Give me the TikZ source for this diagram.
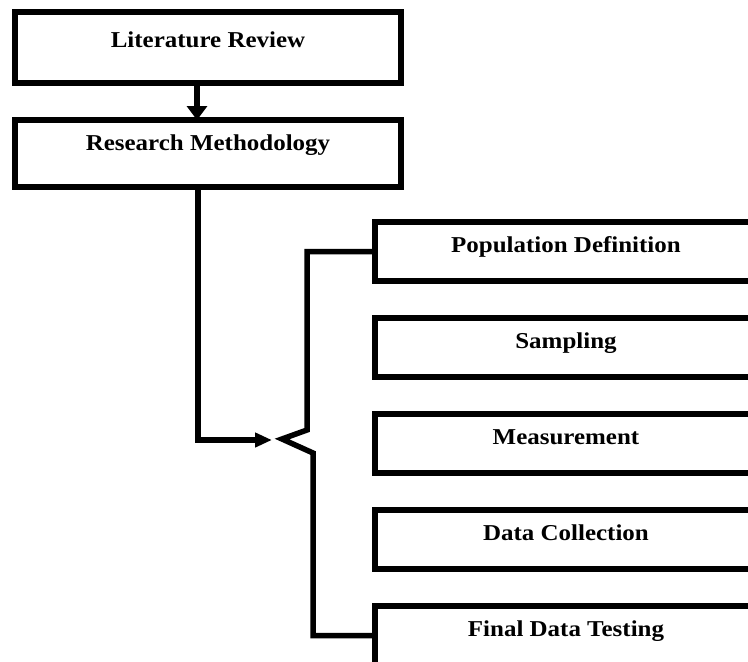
\documentclass[tikz,border=0pt]{standalone}
\usepackage{fontspec}
\setmainfont{Liberation Serif}[FakeStretch=1.1]
\usetikzlibrary{positioning,arrows.meta}

\begin{document}
\begin{tikzpicture}[x=1pt,y=-1pt]
  \tikzset{BoxStyle/.style = {
    shape         = rectangle,
    draw          = black,
    fill          = white,
    line width    = 5.5pt,
    text          = black,
    inner sep     = 0pt,
    outer sep     = 0pt,
    anchor        = north west,
    font          = \fontsize{22.7}{26}\selectfont\bfseries
    }
  }
  \tikzset{TopBoxStyle/.style = {
    BoxStyle,
    minimum width = 386pt
    }
  }
  \tikzset{SideBoxStyle/.style = {
    BoxStyle,
    minimum width = 382pt,
    text height   = 30pt,
    text depth    = 29pt
    }
  }
  \tikzset{LinkStyle/.style = {
    draw          = black,
    line width    = 5.5pt
    }
  }

  \useasboundingbox (0,0) rectangle (748,662);
  \clip (0,0) rectangle (748,662);

	\node[TopBoxStyle, text height=35pt, text depth=36pt](LR) at (15,12) {Literature Review};
	\node[TopBoxStyle, text height=30pt, text depth=37pt](RM) at (15,120) {Research Methodology};
	\node[SideBoxStyle](PD) at (375,222) {Population Definition};
	\node[SideBoxStyle](SA) at (375,318) {Sampling};
	\node[SideBoxStyle](ME) at (375,414) {Measurement};
	\node[SideBoxStyle](DC) at (375,510) {Data Collection};
	\node[SideBoxStyle](FT) at (375,606) {Final Data Testing};

	\coordinate (ArrowEnd) at (272,440);
	\coordinate (BraceTip) at (282,439);

	\draw[LinkStyle, -{Triangle[width=20pt,length=14pt]}] ([xshift=-11pt]LR.south) -- ([xshift=-11pt]RM.north);
	\draw[LinkStyle, -{Triangle[width=14pt,length=17pt]}] ([xshift=-10pt]RM.south) |- (ArrowEnd);
	\draw[LinkStyle] (PD.west) -| (307,430) -- (BraceTip) -- (313,453) |- (FT.west);

  \end{tikzpicture}
\end{document}
